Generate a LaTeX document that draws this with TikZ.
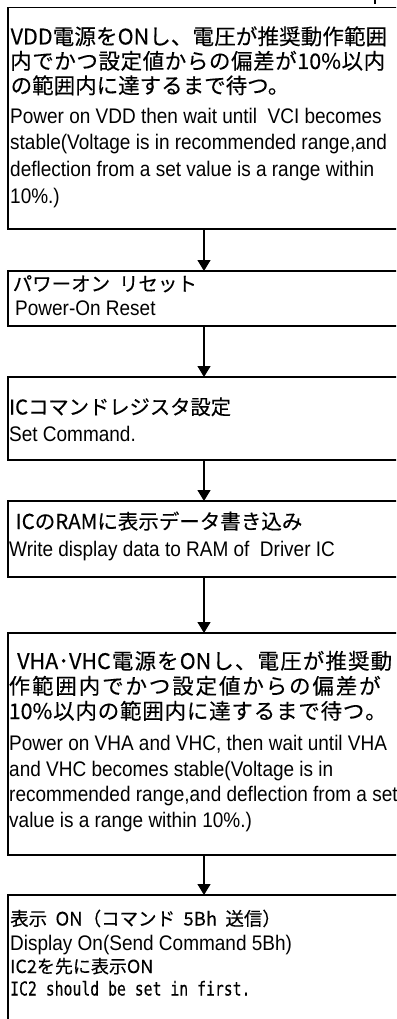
\documentclass[tikz,border=0pt]{standalone}
\usepackage{fontspec}
\setmainfont[FakeStretch=0.9]{Liberation Sans}
\newfontfamily\jpf[FakeBold=0.25]{Noto Sans CJK JP}
\newfontfamily\monof[FakeStretch=0.77,FakeBold=0.2]{DejaVu Sans Mono}
\usetikzlibrary{arrows.meta}
\makeatletter
\def\sprd#1#2{\hbox to #1{\sprd@a#2\sprd@end}}
\def\sprd@a#1{#1\sprd@b}
\def\sprd@b#1{\def\sprd@tmp{#1}\ifx\sprd@tmp\sprd@mark\else\hfill#1\expandafter\sprd@b\fi}
\def\sprd@mark{\sprd@end}
\makeatother
\newcommand{\jsp}{\hspace{0.45em}}
\tikzset{
  box/.style={draw, line width=1.3pt, anchor=north west, minimum width=392pt, inner sep=0pt, outer sep=0pt},
  en/.style={anchor=base west, inner sep=0pt, font=\fontsize{21.1pt}{24pt}\selectfont},
  jp/.style={anchor=base west, inner sep=0pt, font=\jpf\fontsize{#1}{24pt}\selectfont},
  jp/.default=20pt,
  mono/.style={anchor=base west, inner sep=0pt, font=\monof\fontsize{19.2pt}{22pt}\selectfont},
  arr/.style={line width=1.3pt, -{Triangle[width=13pt,length=11pt]}},
  fragline/.style={line width=1.3pt}
}
\begin{document}
\begin{tikzpicture}[x=1pt,y=-1pt]
\useasboundingbox (0,0) rectangle (396,1019);
\clip (0,0) rectangle (396,1019);
% boxes
\node[box, minimum height=221.5pt] (b1) at (8,7.5) {};
\node[box, minimum height=55pt] (b2) at (8,271) {};
\node[box, minimum height=83pt] (b3) at (8,377) {};
\node[box, minimum height=76pt] (b4) at (8,501) {};
\node[box, minimum height=222pt] (b5) at (8,633) {};
\node[box, minimum height=140pt] (b6) at (8,895) {};
% connectors
\draw[arr] (b1.south) -- (b2.north);
\draw[arr] (b2.south) -- (b3.north);
\draw[arr] (b3.south) -- (b4.north);
\draw[arr] (b4.south) -- (b5.north);
\draw[arr] (b5.south) -- (b6.north);
% fragment at top right
\coordinate (m1) at (375,0);
\coordinate (m2) at (375,4);
\draw[fragline] (m1) -- (m2);
% box 1 text
\node[jp=21.5pt] (t1a) at (10.5,44.5) {\sprd{376.5pt}{{VDD}電源を{ON}し、電圧が推奨動作範囲}};
\node[jp=21.5pt] (t1b) at (10,69) {\sprd{375pt}{内でかつ設定値からの偏差が{10\%}以内}};
\node[jp=21.5pt] (t1c) at (10.5,93.5) {の範囲内に達するまで待つ。};
\node[en] (t1d) at (10,123.5) {Power on VDD then wait until~ VCI becomes};
\node[en] (t1e) at (10,150) {stable(Voltage is in recommended range,and};
\node[en] (t1f) at (10,176.5) {deflection from a set value is a range within};
\node[en] (t1g) at (10,203) {10\%.)};
% box 2 text
\node[jp=19.5pt] (t2a) at (12.5,291) {パワーオン\jsp リセット};
\node[en] (t2b) at (15,315) {Power-On Reset};
% box 3 text
\node[jp=20.3pt] (t3a) at (9,414.5) {ICコマンドレジスタ設定};
\node[en] (t3b) at (9,441.5) {Set Command.};
% box 4 text
\node[jp=20.5pt] (t4a) at (15.5,529) {ICのRAMに表示データ書き込み};
\node[en] (t4b) at (9,556) {Write display data to RAM of~ Driver IC};
% box 5 text
\node[jp=21.5pt] (t5a) at (17,669) {\sprd{375pt}{{VHA･VHC}電源を{ON}し、電圧が推奨動}};
\node[jp=21.5pt] (t5b) at (8.5,694) {\sprd{372pt}{作範囲内でかつ設定値からの偏差が}};
\node[jp=21.5pt] (t5c) at (8.5,719) {\sprd{378pt}{{10\%}以内の範囲内に達するまで待つ。}};
\node[en] (t5d) at (9,750.5) {Power on VHA and VHC, then wait until VHA};
\node[en] (t5e) at (9,776) {and VHC becomes stable(Voltage is in};
\node[en] (t5f) at (9,801.5) {recommended range,and deflection from a set};
\node[en] (t5g) at (9,827) {value is a range within 10\%.)};
% box 6 text
\node[jp=18.5pt] (t6a) at (10,925.5) {表示\jsp ON（コマンド\jsp 5Bh\jsp 送信）};
\node[en] (t6b) at (10,950) {Display On(Send Command 5Bh)};
\node[jp=18pt] (t6c) at (10,973) {IC2を先に表示ON};
\node[mono] (t6d) at (10,995.5) {IC2 should be set in first.};
\end{tikzpicture}
\end{document}
